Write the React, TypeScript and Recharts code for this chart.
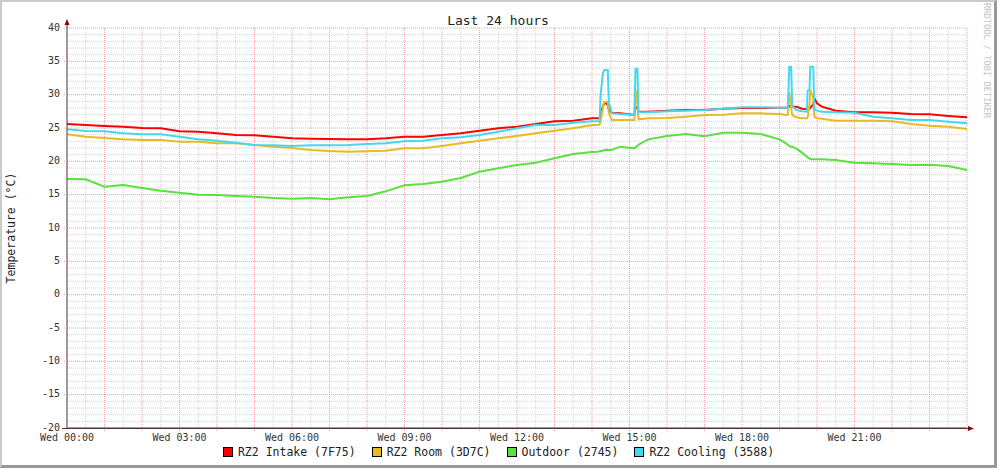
import React from 'react';
import { LineChart, Line, XAxis, YAxis, CartesianGrid } from 'recharts';

const hours = [
  0, 0.5, 1, 1.5, 2, 2.5, 3, 3.5, 4, 4.5, 5, 5.5, 6, 6.5, 7, 7.5, 8, 8.5, 9, 9.5, 10, 10.5, 11, 11.5, 12, 12.5, 13, 13.5, 14,
  14.16, 14.2, 14.23, 14.29, 14.33, 14.42, 14.45, 14.53, 14.75,
  15.09, 15.13, 15.16, 15.21, 15.24,
  15.5, 16, 16.5, 17, 17.5, 18, 18.5, 19,
  19.17, 19.22, 19.24, 19.26, 19.31, 19.34, 19.45, 19.6, 19.73, 19.75, 19.8, 19.82, 19.9, 19.93, 20.0, 20.13,
  20.5, 21, 21.5, 22, 22.5, 23, 23.5, 24,
];

const intake = [
  25.6, 25.45, 25.3, 25.2, 25.0, 24.95, 24.5, 24.45, 24.2, 23.95, 23.9, 23.7, 23.45, 23.4, 23.35, 23.3, 23.3, 23.45, 23.7, 23.7, 23.95, 24.2, 24.6, 24.95, 25.2, 25.6, 26.0, 26.1, 26.45,
  26.45, 26.5, 27.0, 28.2, 28.8, 28.5, 27.8, 27.3, 27.2,
  27.0, 27.0, 28.2, 28.0, 27.45,
  27.45, 27.6, 27.7, 27.7, 27.9, 28.0, 28.0, 28.05,
  28.05, 28.05, 28.1, 28.3, 28.3, 28.2, 28.2, 27.9, 27.85, 27.85, 27.9, 28.0, 28.6, 29.45, 28.7, 28.2,
  27.6, 27.35, 27.35, 27.3, 27.1, 27.05, 26.8, 26.6,
];

const room = [
  24.05, 23.7, 23.5, 23.3, 23.2, 23.2, 22.95, 22.95, 22.7, 22.7, 22.45, 22.2, 22.0, 21.7, 21.55, 21.45, 21.5, 21.6, 21.95, 21.95, 22.3, 22.7, 23.1, 23.45, 23.8, 24.2, 24.6, 24.95, 25.45,
  25.45, 25.5, 26.0, 28.0, 28.9, 28.9, 27.2, 26.2, 26.2,
  26.2, 26.2, 30.7, 28.5, 26.3,
  26.45, 26.5, 26.7, 26.95, 27.0, 27.2, 27.2, 27.1,
  26.95, 26.95, 29.5, 30.4, 28.0, 26.95, 26.6, 26.45, 26.45, 26.6, 28.5, 30.7, 29.5, 26.7, 26.45, 26.4,
  26.1, 26.1, 26.1, 26.0, 25.6, 25.35, 25.2, 24.85,
];

const outdoor = [
  17.35, 17.3, 16.2, 16.45, 16.0, 15.6, 15.3, 15.0, 14.95, 14.8, 14.7, 14.5, 14.4, 14.5, 14.3, 14.6, 14.8, 15.5, 16.4, 16.6, 16.95, 17.5, 18.45, 18.95, 19.45, 19.8, 20.45, 21.1, 21.4,
  21.45, 21.5, 21.55, 21.6, 21.7, 21.7, 21.7, 21.75, 22.2,
  21.95, 22.0, 22.1, 22.3, 22.5,
  23.3, 23.8, 24.1, 23.75, 24.3, 24.3, 24.1, 23.3,
  22.7, 22.5, 22.4, 22.3, 22.2, 22.2, 21.9, 21.3, 20.7, 20.6, 20.4, 20.35, 20.3, 20.3, 20.3, 20.3,
  20.2, 19.8, 19.7, 19.6, 19.45, 19.5, 19.3, 18.7,
];

const cooling = [
  24.8, 24.55, 24.5, 24.2, 24.05, 24.05, 23.7, 23.3, 23.1, 22.8, 22.45, 22.4, 22.3, 22.4, 22.4, 22.45, 22.6, 22.7, 23.0, 23.1, 23.45, 23.6, 23.95, 24.45, 24.95, 25.45, 25.45, 25.8, 26.0,
  26.0, 26.0, 30.0, 33.2, 33.7, 33.7, 28.7, 27.2, 27.1,
  27.0, 27.0, 33.9, 33.9, 27.4,
  27.35, 27.5, 27.6, 27.7, 27.9, 28.1, 28.1, 28.05,
  28.05, 28.05, 30.7, 34.2, 34.2, 28.3, 27.7, 27.5, 27.45, 30.6, 30.7, 34.2, 34.2, 27.8, 27.6, 27.45,
  27.35, 27.3, 26.7, 26.45, 26.2, 26.2, 25.95, 25.7,
];

const xTickHours = [0, 3, 6, 9, 12, 15, 18, 21];
const xTickLabels = ['Wed 00:00', 'Wed 03:00', 'Wed 06:00', 'Wed 09:00', 'Wed 12:00', 'Wed 15:00', 'Wed 18:00', 'Wed 21:00'];
const xHourTicks = [0, 1, 2, 3, 4, 5, 6, 7, 8, 9, 10, 11, 12, 13, 14, 15, 16, 17, 18, 19, 20, 21, 22, 23, 24];
const xMinorGrid = [0.5, 1.5, 2.5, 3.5, 4.5, 5.5, 6.5, 7.5, 8.5, 9.5, 10.5, 11.5, 12.5, 13.5, 14.5, 15.5, 16.5, 17.5, 18.5, 19.5, 20.5, 21.5, 22.5, 23.5];
const xMajorGrid = [1, 2, 3, 4, 5, 6, 7, 8, 9, 10, 11, 12, 13, 14, 15, 16, 17, 18, 19, 20, 21, 22, 23, 24];
const yTicks = [-20, -15, -10, -5, 0, 5, 10, 15, 20, 25, 30, 35, 40];
const yMajorGrid = [-15, -10, -5, 0, 5, 10, 15, 20, 25, 30, 35, 40];
const yMinorGrid = [
  -19, -18, -17, -16, -14, -13, -12, -11, -9, -8, -7, -6, -4, -3, -2, -1,
  1, 2, 3, 4, 6, 7, 8, 9, 11, 12, 13, 14, 16, 17, 18, 19, 21, 22, 23, 24,
  26, 27, 28, 29, 31, 32, 33, 34, 36, 37, 38, 39,
];

const seriesKeys = ['intake', 'room', 'outdoor', 'cooling'];
const seriesNames = ['RZ2 Intake (7F75)', 'RZ2 Room (3D7C)', 'Outdoor (2745)', 'RZ2 Cooling (3588)'];
const seriesColors = ['#FF0000', '#E8BA24', '#5AE03F', '#44D8EE'];

const title = 'Last 24 hours';
const yTitle = 'Temperature (°C)';
const watermark = 'RRDTOOL / TOBI OETIKER';

const data = hours.map((h, i) => ({
  h,
  intake: intake[i],
  room: room[i],
  outdoor: outdoor[i],
  cooling: cooling[i],
}));

const MONO = '"DejaVu Sans Mono", monospace';

const fmtX = (v: number) => {
  const idx = xTickHours.indexOf(v);
  return idx >= 0 ? xTickLabels[idx] : '';
};

export default function App() {
  return (
    <div style={{ position: 'absolute', left: 0, top: 0, width: 997, height: 468, background: '#fff', overflow: 'hidden' }}>
      <div style={{ position: 'absolute', left: 0, top: 0 }}>
        <LineChart width={997} height={468} data={data} margin={{ top: 28, right: 30, bottom: 20, left: 0 }}>
          <CartesianGrid
            horizontalValues={yMinorGrid}
            verticalValues={xMinorGrid}
            stroke="#d2d2d2"
            strokeDasharray="1 1"
          />
          <CartesianGrid
            horizontalValues={yMajorGrid}
            verticalValues={xMajorGrid}
            stroke="#efa0a0"
            strokeDasharray="1 1"
          />
          <XAxis
            dataKey="h"
            type="number"
            domain={[0, 24]}
            ticks={xHourTicks}
            interval={0}
            tickFormatter={fmtX}
            height={20}
            tickSize={3}
            tickMargin={3}
            axisLine={{ stroke: '#4a3535', strokeWidth: 1 }}
            tickLine={{ stroke: '#efa0a0', strokeDasharray: '1 1' }}
            tick={{ fontFamily: MONO, fontSize: 10, fill: '#333' }}
            allowDataOverflow
          />
          <YAxis
            type="number"
            domain={[-20, 40]}
            ticks={yTicks}
            interval={0}
            width={67}
            tickSize={3}
            tickMargin={4}
            axisLine={{ stroke: '#4a3535', strokeWidth: 1 }}
            tickLine={{ stroke: '#efa0a0', strokeDasharray: '1 1' }}
            tick={{ fontFamily: MONO, fontSize: 10, fill: '#333', dy: -1 }}
            allowDataOverflow
          />
          {seriesKeys.map((k, i) => (
            <Line
              key={k}
              dataKey={k}
              type="linear"
              stroke={seriesColors[i]}
              strokeWidth={2}
              dot={false}
              activeDot={false}
              isAnimationActive={false}
            />
          ))}
        </LineChart>
      </div>
      <svg width={997} height={468} style={{ position: 'absolute', left: 0, top: 0, pointerEvents: 'none' }}>
        <text x={498} y={25} textAnchor="middle" fontFamily={MONO} fontSize={13} fill="#222">{title}</text>
        <text
          x={15}
          y={228}
          textAnchor="middle"
          fontFamily={MONO}
          fontSize={11.5}
          fill="#222"
          transform="rotate(-90 15 228)"
        >
          {yTitle}
        </text>
        <text
          x={984}
          y={3}
          textAnchor="start"
          fontFamily={MONO}
          fontSize={8.7}
          fill="#c4c4c4"
          transform="rotate(90 984 3)"
        >
          {watermark}
        </text>
        <line x1={67} y1={28} x2={67} y2={22} stroke="#4a3535" strokeWidth={1} />
        <polygon points="67,19 64.5,25 69.5,25" fill="#8a0000" />
        <line x1={62} y1={428.5} x2={970} y2={428.5} stroke="#4a3535" strokeWidth={1} />
        <polygon points="974,428.5 968,426 968,431" fill="#8a0000" />
      </svg>
      <div
        style={{
          position: 'absolute',
          left: 0,
          top: 445,
          width: 997,
          display: 'flex',
          justifyContent: 'center',
          fontFamily: MONO,
          fontSize: 11.5,
          color: '#222',
          lineHeight: '14px',
        }}
      >
        {seriesNames.map((n, i) => (
          <div key={n} style={{ display: 'flex', alignItems: 'center', marginRight: i < seriesNames.length - 1 ? 16 : 0 }}>
            <span
              style={{
                display: 'inline-block',
                width: 10,
                height: 10,
                boxSizing: 'border-box',
                border: '1px solid #000',
                background: seriesColors[i],
                marginRight: 5,
              }}
            />
            <span style={{ whiteSpace: 'pre' }}>{n}</span>
          </div>
        ))}
      </div>
      <div
        style={{
          position: 'absolute',
          left: 0,
          top: 0,
          width: 997,
          height: 468,
          boxSizing: 'border-box',
          borderTop: '2px solid #CBCBCB',
          borderLeft: '2px solid #CBCBCB',
          borderRight: '3px solid #999999',
          borderBottom: '3px solid #999999',
          pointerEvents: 'none',
        }}
      />
    </div>
  );
}
